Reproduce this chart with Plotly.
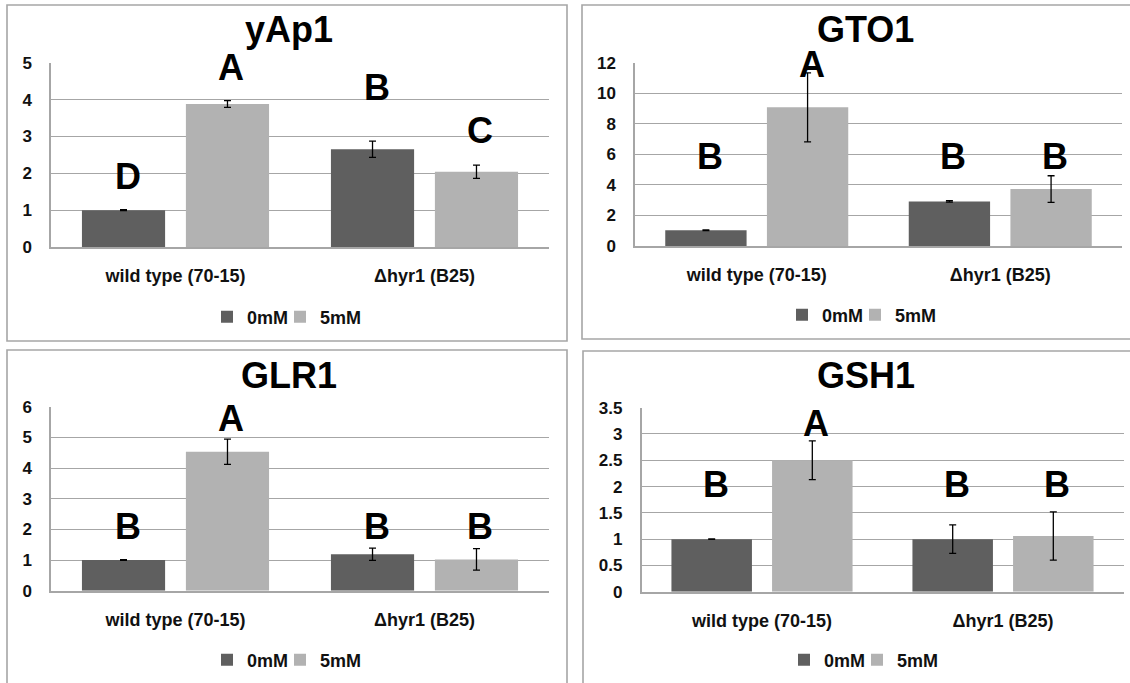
import plotly.graph_objects as go

W, H = 1130, 683

genes = ["yAp1", "GTO1", "GLR1", "GSH1"]
strains = ["wild type (70-15)", "Δhyr1 (B25)"]
treatments = ["0mM", "5mM"]

# relative expression (wild type, Δhyr1)
yap1_0mM = [1.00, 2.65]
yap1_5mM = [3.88, 2.04]
yap1_0mM_err = [0.01, 0.22]
yap1_5mM_err = [0.09, 0.18]
yap1_letters_0mM = ["D", "B"]
yap1_letters_5mM = ["A", "C"]
yap1_letter_y_0mM = [1.92, 4.33]
yap1_letter_y_5mM = [4.88, 3.15]

gto1_0mM = [1.03, 2.92]
gto1_5mM = [9.08, 3.73]
gto1_0mM_err = [0.03, 0.05]
gto1_5mM_err = [2.26, 0.87]
gto1_letters_0mM = ["B", "B"]
gto1_letters_5mM = ["A", "B"]
gto1_letter_y_0mM = [5.84, 5.84]
gto1_letter_y_5mM = [11.9, 5.84]

glr1_0mM = [1.00, 1.19]
glr1_5mM = [4.53, 1.02]
glr1_0mM_err = [0.01, 0.20]
glr1_5mM_err = [0.41, 0.35]
glr1_letters_0mM = ["B", "B"]
glr1_letters_5mM = ["A", "B"]
glr1_letter_y_0mM = [2.09, 2.09]
glr1_letter_y_5mM = [5.60, 2.09]

gsh1_0mM = [1.00, 1.00]
gsh1_5mM = [2.50, 1.06]
gsh1_0mM_err = [0.005, 0.27]
gsh1_5mM_err = [0.37, 0.46]
gsh1_letters_0mM = ["B", "B"]
gsh1_letters_5mM = ["A", "B"]
gsh1_letter_y_0mM = [2.03, 2.03]
gsh1_letter_y_5mM = [3.19, 2.03]

y_max = [5, 12, 6, 3.5]
y_dtick = [1, 2, 1, 0.5]

series = [
    (yap1_0mM, yap1_5mM, yap1_0mM_err, yap1_5mM_err, yap1_letters_0mM, yap1_letters_5mM, yap1_letter_y_0mM, yap1_letter_y_5mM),
    (gto1_0mM, gto1_5mM, gto1_0mM_err, gto1_5mM_err, gto1_letters_0mM, gto1_letters_5mM, gto1_letter_y_0mM, gto1_letter_y_5mM),
    (glr1_0mM, glr1_5mM, glr1_0mM_err, glr1_5mM_err, glr1_letters_0mM, glr1_letters_5mM, glr1_letter_y_0mM, glr1_letter_y_5mM),
    (gsh1_0mM, gsh1_5mM, gsh1_0mM_err, gsh1_5mM_err, gsh1_letters_0mM, gsh1_letters_5mM, gsh1_letter_y_0mM, gsh1_letter_y_5mM),
]

# ---- layout geometry (pixels) ----
plot_boxes = [(51, 62.7, 549, 247), (635, 62.7, 1122, 246),
              (51, 406.7, 549, 590.7), (641.5, 407.7, 1123.5, 591.7)]
title_pos = [(289, 29), (866, 29), (289, 375), (866, 375)]
# left x of each legend item (0mM, 5mM) and centre y
legend_item_x = [(207, 280), (782, 855), (207, 280), (784, 857)]
legend_y = [317, 315, 660, 660]
frame_boxes = [(7, 5, 567, 341), (582, 5, 1140, 339), (7, 350, 567, 690), (583, 351, 1140, 690)]

DARK = "#5f5f5f"
LIGHT = "#b2b2b2"
GRID = "#a6a6a6"
FONT = "Arial, 'Liberation Sans', sans-serif"
BARGAP = 0.165
BARGROUPGAP = 0.2


def px(x):
    return x / W


def py(y):
    return 1 - y / H


def fmt(v):
    return ("%g" % v)


fig = go.Figure()
annotations = []
shapes = []
layout_extra = {}
leg_n = 0

for i, (gene, s) in enumerate(zip(genes, series)):
    v0, v5, e0, e5, l0, l5, ly0, ly5 = s
    ax = "" if i == 0 else str(i + 1)
    xa, ya = "x" + ax, "y" + ax
    for k, (name, vals, errs, col) in enumerate(
            [(treatments[0], v0, e0, DARK), (treatments[1], v5, e5, LIGHT)]):
        leg_n += 1
        leg = "legend" if leg_n == 1 else "legend%d" % leg_n
        fig.add_trace(go.Bar(
            x=strains, y=vals, name=name, xaxis=xa, yaxis=ya, legend=leg,
            marker=dict(color=col, line=dict(width=0)),
            error_y=dict(type="data", array=errs, visible=True, color="black",
                         thickness=1.3, width=3.5),
            showlegend=True,
        ))
        layout_extra[leg] = dict(
            orientation="h", x=px(legend_item_x[i][k]), y=py(legend_y[i]),
            xanchor="left", yanchor="middle",
            xref="paper", yref="paper", bgcolor="rgba(0,0,0,0)",
            font=dict(family=FONT, size=18, color="#111", weight="bold"),
            itemclick=False, itemdoubleclick=False,
        )
    x0, y0, x1, y1 = plot_boxes[i]
    ticks = []
    t = 0.0
    while t <= y_max[i] + 1e-9:
        ticks.append(round(t, 6))
        t += y_dtick[i]
    layout_extra["xaxis" + ax] = dict(
        domain=[px(x0), px(x1)], anchor=ya, type="category", automargin=False,
        showgrid=False, showline=True, linecolor=GRID, linewidth=1.5,
        ticks="", ticklabelstandoff=12,
        tickfont=dict(family=FONT, size=18, color="#111", weight="bold"),
    )
    layout_extra["yaxis" + ax] = dict(
        domain=[py(y1), py(y0)], anchor=xa, range=[0, y_max[i]],
        tickmode="array", tickvals=ticks, ticktext=["<b>%s</b>" % fmt(v) for v in ticks],
        automargin=False,
        showgrid=True, gridcolor=GRID, gridwidth=1.3, zeroline=False,
        showline=True, linecolor=GRID, linewidth=1.5, ticks="", ticklabelstandoff=14,
        tickfont=dict(family=FONT, size=17, color="#111", weight="bold"),
    )
    tx, ty = title_pos[i]
    annotations.append(dict(
        text="<b>%s</b>" % gene, x=px(tx), y=py(ty), xref="paper", yref="paper",
        xanchor="center", yanchor="middle", showarrow=False,
        font=dict(family=FONT, size=36, color="black"),
    ))
    catw = (x1 - x0) / 2
    off = (1 - BARGAP) / 4 * catw
    for j, strain in enumerate(strains):
        for lab, lyv, sgn in [(l0[j], ly0[j], -1), (l5[j], ly5[j], 1)]:
            annotations.append(dict(
                text="<b>%s</b>" % lab, x=strain, y=lyv, xref=xa, yref=ya,
                xshift=sgn * off + 4, xanchor="center", yanchor="middle",
                showarrow=False,
                font=dict(family=FONT, size=36, color="black"),
            ))
    fx0, fy0, fx1, fy1 = frame_boxes[i]
    shapes.append(dict(type="rect", xref="paper", yref="paper",
                       x0=px(fx0), x1=px(fx1), y0=py(fy1), y1=py(fy0),
                       line=dict(color=GRID, width=1.6), fillcolor="rgba(0,0,0,0)",
                       layer="below"))

fig.update_layout(
    width=W, height=H, margin=dict(l=0, r=0, t=0, b=0, autoexpand=False),
    paper_bgcolor="white", plot_bgcolor="white",
    barmode="group", bargap=BARGAP, bargroupgap=BARGROUPGAP,
    annotations=annotations, shapes=shapes,
    font=dict(family=FONT),
    hovermode=False,
    **layout_extra,
)

fig.write_html(
    "out.html",
    config={"displayModeBar": False, "staticPlot": False},
    post_script="document.body.style.margin='0';document.body.style.overflow='hidden';",
)
